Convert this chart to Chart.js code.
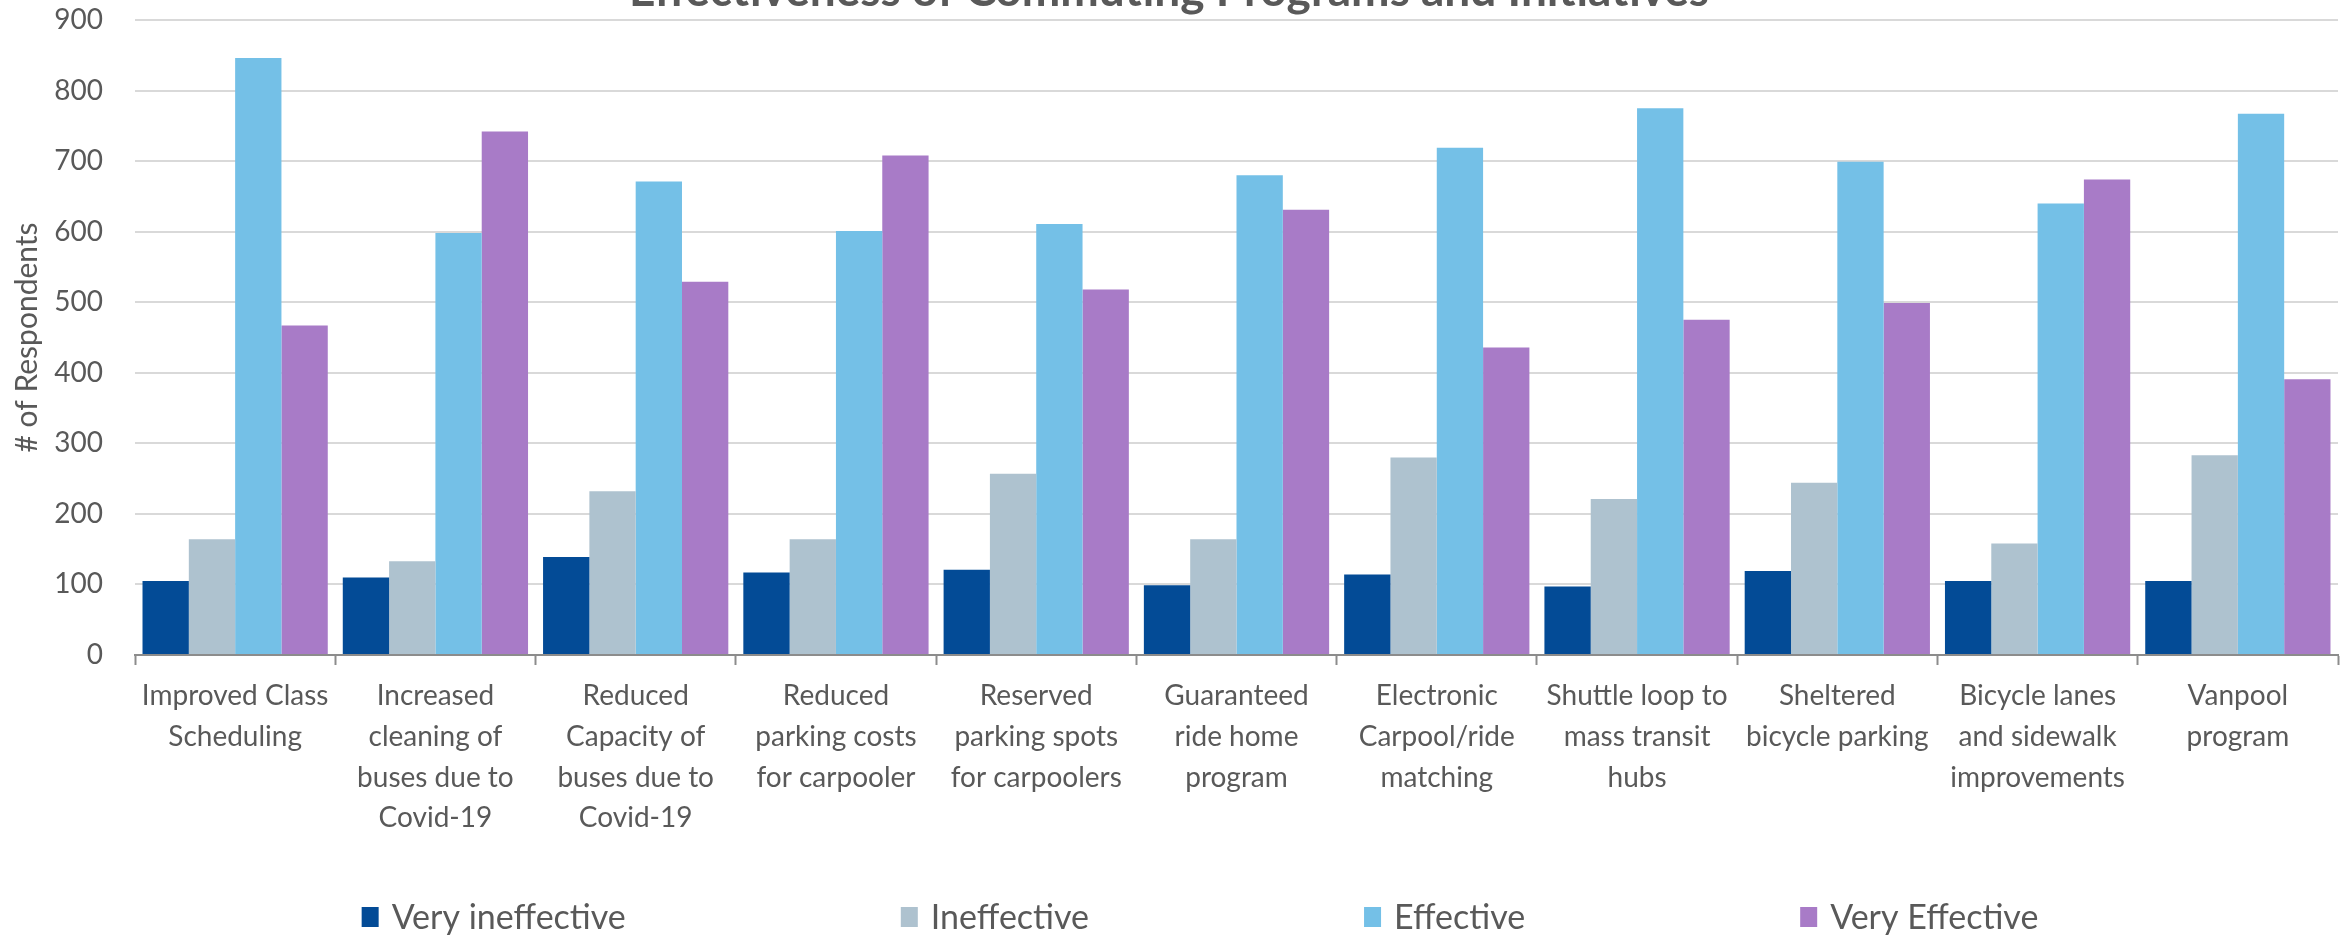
<!DOCTYPE html>
<html>
<head>
<meta charset="utf-8">
<script src="https://cdn.jsdelivr.net/npm/chart.js@4.4.1/dist/chart.umd.min.js"></script>
<style>
  html, body { margin: 0; padding: 0; background: #ffffff; overflow: hidden; width: 2340px; height: 940px; }
  #wrap { position: absolute; left: 0; top: -32px; width: 2426px; height: 972px; }
</style>
</head>
<body>
<div id="wrap"><canvas id="c" width="2426" height="972"></canvas></div>
<script>
// ---- data ----
const chartTitle = 'Effectiveness of Commuting Programs and Initiatives';
const yAxisTitle = '# of Respondents';
const categories = [
  ['Improved Class', 'Scheduling'],
  ['Increased', 'cleaning of', 'buses due to', 'Covid-19'],
  ['Reduced', 'Capacity of', 'buses due to', 'Covid-19'],
  ['Reduced', 'parking costs', 'for carpooler'],
  ['Reserved', 'parking spots', 'for carpoolers'],
  ['Guaranteed', 'ride home', 'program'],
  ['Electronic', 'Carpool/ride', 'matching'],
  ['Shuttle loop to', 'mass transit', 'hubs'],
  ['Sheltered', 'bicycle parking'],
  ['Bicycle lanes', 'and sidewalk', 'improvements'],
  ['Vanpool', 'program']
];
const seriesNames = ['Very ineffective', 'Ineffective', 'Effective', 'Very Effective'];
const veryIneffective = [105, 110, 139, 117, 121, 99, 114, 97, 119, 105, 105];
const ineffective     = [164, 133, 232, 164, 257, 164, 280, 221, 244, 158, 283];
const effective       = [846, 598, 671, 601, 611, 680, 719, 775, 699, 640, 767];
const veryEffective   = [467, 742, 529, 708, 518, 631, 436, 475, 499, 674, 391];
const yMin = 0, yMax = 900, yStep = 100;

// ---- styles ----
const seriesColors = ['#034B96', '#AEC2CF', '#74C0E7', '#A87BC7'];
const textColor = '#595959';
const FONT = 'Lato, "Open Sans", sans-serif';

Chart.defaults.font.family = FONT;
Chart.defaults.color = textColor;

// Legend with evenly spread items (drawn from the dataset labels/colours)
const spreadLegend = {
  id: 'spreadLegend',
  afterDraw(chart, args, opts) {
    const ctx = chart.ctx;
    const items = chart.data.datasets.map(d => ({ text: d.label, color: d.backgroundColor }));
    ctx.save();
    ctx.font = opts.fontSize + 'px ' + FONT;
    ctx.textBaseline = 'middle';
    ctx.textAlign = 'left';
    const widths = items.map(it => opts.boxW + opts.boxGap + ctx.measureText(it.text).width);
    const total = widths.reduce((a, b) => a + b, 0) + opts.itemGap * (items.length - 1);
    let x = chart.width / 2 + opts.centerShift - total / 2;
    const y = chart.height - opts.bottomOffset;
    items.forEach((it, i) => {
      ctx.fillStyle = it.color;
      ctx.fillRect(x, y - opts.boxH / 2, opts.boxW, opts.boxH);
      ctx.fillStyle = opts.color;
      ctx.fillText(it.text, x + opts.boxW + opts.boxGap, y + 1);
      x += widths[i] + opts.itemGap;
    });
    ctx.restore();
  }
};

const datasets = [veryIneffective, ineffective, effective, veryEffective].map((vals, i) => ({
  label: seriesNames[i],
  data: vals,
  backgroundColor: seriesColors[i],
  borderWidth: 0,
  categoryPercentage: 0.925,
  barPercentage: 1.0
}));

new Chart(document.getElementById('c'), {
  type: 'bar',
  data: { labels: categories, datasets },
  plugins: [spreadLegend],
  options: {
    responsive: false,
    animation: false,
    devicePixelRatio: 1,
    layout: { padding: { top: 0, left: 0, right: 88, bottom: 102 } },
    plugins: {
      legend: { display: false },
      tooltip: { enabled: false },
      title: {
        display: true,
        text: chartTitle,
        color: textColor,
        font: { size: 46, weight: 'bold', lineHeight: 1 },
        padding: { top: 0, bottom: 6 }
      },
      spreadLegend: {
        fontSize: 34, boxW: 17, boxH: 20, boxGap: 13, itemGap: 275,
        centerShift: -13, bottomOffset: 23, color: textColor
      }
    },
    scales: {
      x: {
        grid: {
          display: true, drawOnChartArea: false, drawTicks: true,
          tickLength: 10, tickColor: '#8C8C8C', tickWidth: 2, offset: true
        },
        border: { display: true, color: '#8C8C8C', width: 2 },
        ticks: {
          color: textColor, font: { size: 28, lineHeight: 1.45 },
          padding: 11, maxRotation: 0, minRotation: 0, autoSkip: false
        },
        afterFit(scale) { scale.height = 183; }
      },
      y: {
        min: yMin, max: yMax,
        grid: { color: '#D9D9D9', lineWidth: 2, drawTicks: false },
        border: { display: false },
        ticks: { stepSize: yStep, color: textColor, font: { size: 28 }, padding: 32 },
        title: {
          display: true, text: yAxisTitle, color: textColor,
          font: { size: 30, lineHeight: 1.2 }, padding: { top: 9, bottom: 0 }
        },
        afterFit(scale) { scale.width = 135; }
      }
    }
  }
});
</script>
</body>
</html>
